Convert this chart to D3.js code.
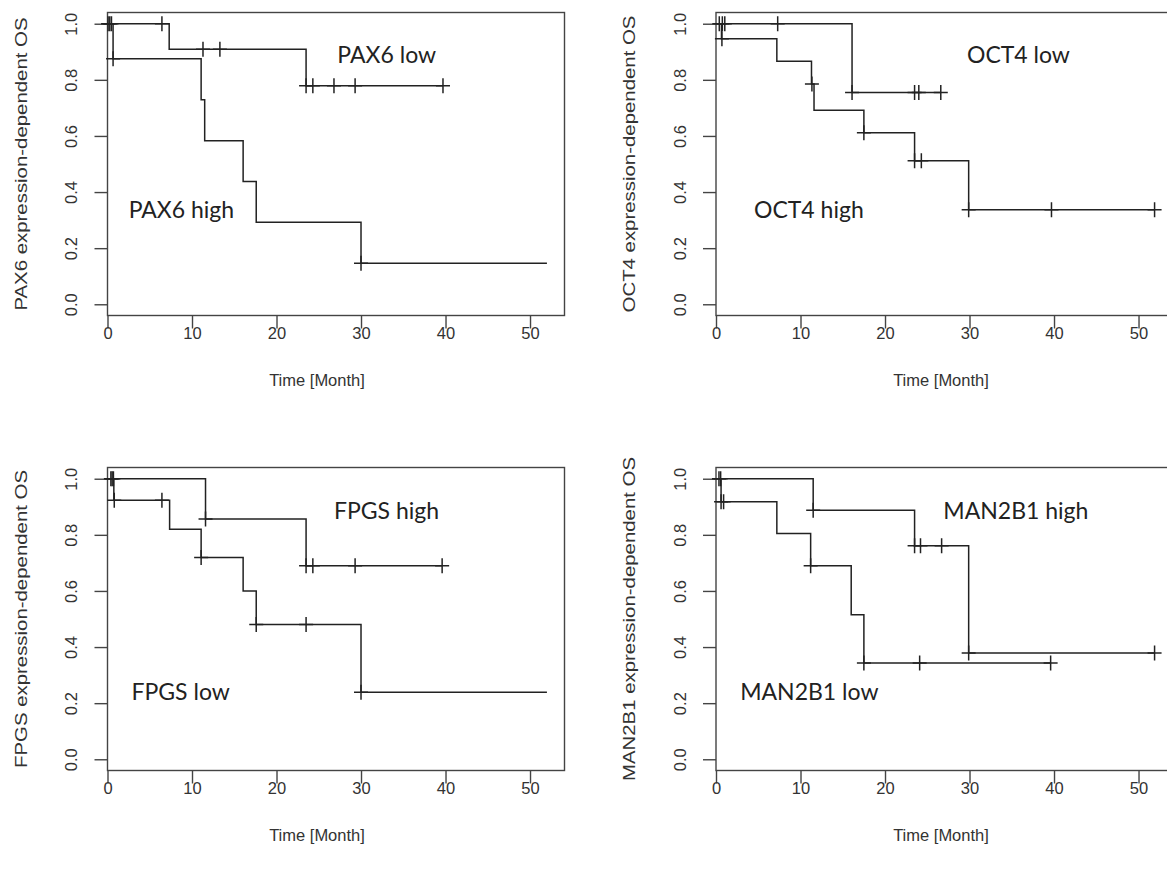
<!DOCTYPE html>
<html><head><meta charset="utf-8">
<script src="https://cdn.jsdelivr.net/npm/d3@7"></script>
<style>body{margin:0;background:#fff} svg{display:block}</style>
</head><body><svg id="c" width="1167" height="870"></svg>
<script>
// ---------- data ----------
const xTickValues = [0, 10, 20, 30, 40, 50];
const yTickValues = [0, 0.2, 0.4, 0.6, 0.8, 1.0];
const xTitle = "Time [Month]";
const yTitles = ["PAX6 expression-dependent OS", "OCT4 expression-dependent OS",
                 "FPGS expression-dependent OS", "MAN2B1 expression-dependent OS"];
const groupLabels = [["PAX6 low", "PAX6 high"], ["OCT4 low", "OCT4 high"],
                     ["FPGS high", "FPGS low"], ["MAN2B1 high", "MAN2B1 low"]];

// PAX6
const pax6LowTime  = [0, 7.3, 23.5, 39.7];
const pax6LowSurv  = [1, 0.909, 0.779, 0.779];
const pax6LowCens  = [0.07, 0.27, 0.47, 6.44, 11.3, 13.3, 23.5, 24.3, 26.8, 29.3, 39.7];
const pax6HighTime = [0, 0.66, 11.08, 11.5, 16.05, 17.6, 30, 52];
const pax6HighSurv = [1, 0.875, 0.729, 0.583, 0.4375, 0.292, 0.146, 0.146];
const pax6HighCens = [0.66, 30];

// OCT4
const oct4LowTime  = [0, 16.1, 26.6];
const oct4LowSurv  = [1, 0.755, 0.755];
const oct4LowCens  = [0.39, 0.75, 1.04, 7.3, 16.1, 23.5, 24.0, 26.6];
const oct4HighTime = [0, 0.65, 7.2, 11.3, 11.6, 17.5, 23.5, 29.9, 51.9];
const oct4HighSurv = [1, 0.946, 0.866, 0.785, 0.692, 0.611, 0.512, 0.337, 0.337];
const oct4HighCens = [0.7, 11.35, 17.5, 23.5, 24.3, 29.9, 39.7, 51.9];

// FPGS
const fpgsHighTime = [0, 11.6, 23.5, 39.6];
const fpgsHighSurv = [1, 0.856, 0.69, 0.69];
const fpgsHighCens = [0.4, 0.55, 0.7, 11.6, 23.5, 24.3, 29.3, 39.6];
const fpgsLowTime  = [0, 0.75, 7.35, 11.08, 16.05, 17.6, 30, 52];
const fpgsLowSurv  = [1, 0.923, 0.82, 0.719, 0.6, 0.48, 0.239, 0.239];
const fpgsLowCens  = [0.8, 6.44, 11.08, 17.6, 23.5, 30];

// MAN2B1
const man2b1HighTime = [0, 11.5, 23.5, 29.9, 51.9];
const man2b1HighSurv = [1, 0.888, 0.761, 0.379, 0.379];
const man2b1HighCens = [0.35, 0.55, 11.5, 23.5, 24.2, 26.7, 29.9, 51.9];
const man2b1LowTime  = [0, 0.6, 7.2, 11.2, 16.0, 17.5, 39.6];
const man2b1LowSurv  = [1, 0.918, 0.805, 0.69, 0.515, 0.343, 0.343];
const man2b1LowCens  = [0.6, 0.9, 11.2, 17.5, 24.1, 39.6];

// ---------- layout ----------
const svg = d3.select("#c");
const L = 107.5, W = 457, T = 12.5, H = 303, DX = 608.5, DY = 455;
const xMax = 54.08;
const xTitleCenter = [317, 941];
const labelPos = [ // [t, s] positions of the two group labels in data coords
  [[27.2, 0.86], [2.5, 0.307]],
  [[29.7, 0.86], [4.5, 0.307]],
  [[26.8, 0.855], [2.84, 0.212]],
  [[26.9, 0.855], [2.86, 0.212]]
];
const curves = [
  [[pax6LowTime, pax6LowSurv, pax6LowCens], [pax6HighTime, pax6HighSurv, pax6HighCens]],
  [[oct4LowTime, oct4LowSurv, oct4LowCens], [oct4HighTime, oct4HighSurv, oct4HighCens]],
  [[fpgsHighTime, fpgsHighSurv, fpgsHighCens], [fpgsLowTime, fpgsLowSurv, fpgsLowCens]],
  [[man2b1HighTime, man2b1HighSurv, man2b1HighCens], [man2b1LowTime, man2b1LowSurv, man2b1LowCens]]
];
const axisFont = "'Liberation Sans', Arial, sans-serif";
const lineCol = "#222";

function survAt(times, surv, t) {
  let v = surv[0];
  for (let i = 0; i < times.length; i++) if (times[i] <= t + 1e-9) v = surv[i];
  return v;
}

curves.forEach((pc, p) => {
  const col = p % 2, ox = col * DX, oy = Math.floor(p / 2) * DY;
  const x = d3.scaleLinear().domain([0, xMax]).range([L + ox, L + ox + W]);
  const y = d3.scaleLinear().domain([-0.04, 1.04]).range([T + oy + H, T + oy]);
  const g = svg.append("g");

  // box
  g.append("rect").attr("x", L + ox).attr("y", T + oy).attr("width", W).attr("height", H)
    .attr("fill", "none").attr("stroke", "#444").attr("stroke-width", 1.4);

  // x axis
  const xa = g.append("g").attr("transform", `translate(0,${T + oy + H})`)
    .call(d3.axisBottom(x).tickValues(xTickValues).tickSize(13).tickSizeOuter(0).tickFormat(d3.format("d")));
  xa.select(".domain").remove();
  xa.selectAll(".tick line").attr("stroke", "#444").attr("stroke-width", 1.4);
  xa.selectAll(".tick text").attr("y", 12).attr("dy", "0.71em")
    .style("font-family", axisFont).style("font-size", "16.5px").attr("fill", "#333");

  // y axis
  const ya = g.append("g").attr("transform", `translate(${L + ox},0)`)
    .call(d3.axisLeft(y).tickValues(yTickValues).tickSize(13).tickSizeOuter(0).tickFormat(d3.format(".1f")));
  ya.select(".domain").remove();
  ya.selectAll(".tick line").attr("stroke", "#444").attr("stroke-width", 1.4);
  ya.selectAll(".tick text").attr("x", 0).attr("dy", "0.35em")
    .attr("transform", "translate(-36,0) rotate(-90)").attr("text-anchor", "middle")
    .style("font-family", axisFont).style("font-size", "16.5px").attr("fill", "#333");

  // titles
  g.append("text").attr("x", xTitleCenter[col]).attr("y", T + oy + H + 70)
    .attr("text-anchor", "middle").style("font-family", axisFont).style("font-size", "16.5px")
    .attr("fill", "#333").text(xTitle);
  g.append("text").attr("transform", `translate(${L + ox - 81},${T + oy + H / 2}) rotate(-90) scale(1.2,1)`)
    .attr("text-anchor", "middle").style("font-family", axisFont).style("font-size", "17px")
    .attr("fill", "#333").text(yTitles[p]);

  // curves
  const line = d3.line().x(d => x(d[0])).y(d => y(d[1])).curve(d3.curveStepAfter);
  pc.forEach(([tt, ss, cc]) => {
    const pts = tt.map((t, i) => [t, ss[i]]);
    g.append("path").attr("d", line(pts)).attr("fill", "none")
      .attr("stroke", lineCol).attr("stroke-width", 1.5);
    cc.forEach(t => {
      const cx = x(t), cy = y(survAt(tt, ss, t));
      g.append("path").attr("d", `M${cx - 7},${cy}H${cx + 7}M${cx},${cy - 7.5}V${cy + 7.5}`)
        .attr("stroke", lineCol).attr("stroke-width", 1.5).attr("fill", "none");
    });
  });

  // group labels
  groupLabels[p].forEach((lab, i) => {
    const [t, s] = labelPos[p][i];
    g.append("text").attr("x", x(t)).attr("y", y(s))
      .style("font-family", "Lato, 'Noto Sans', sans-serif").style("font-size", "23px")
      .attr("fill", "#222").text(lab);
  });
});
</script></body></html>
